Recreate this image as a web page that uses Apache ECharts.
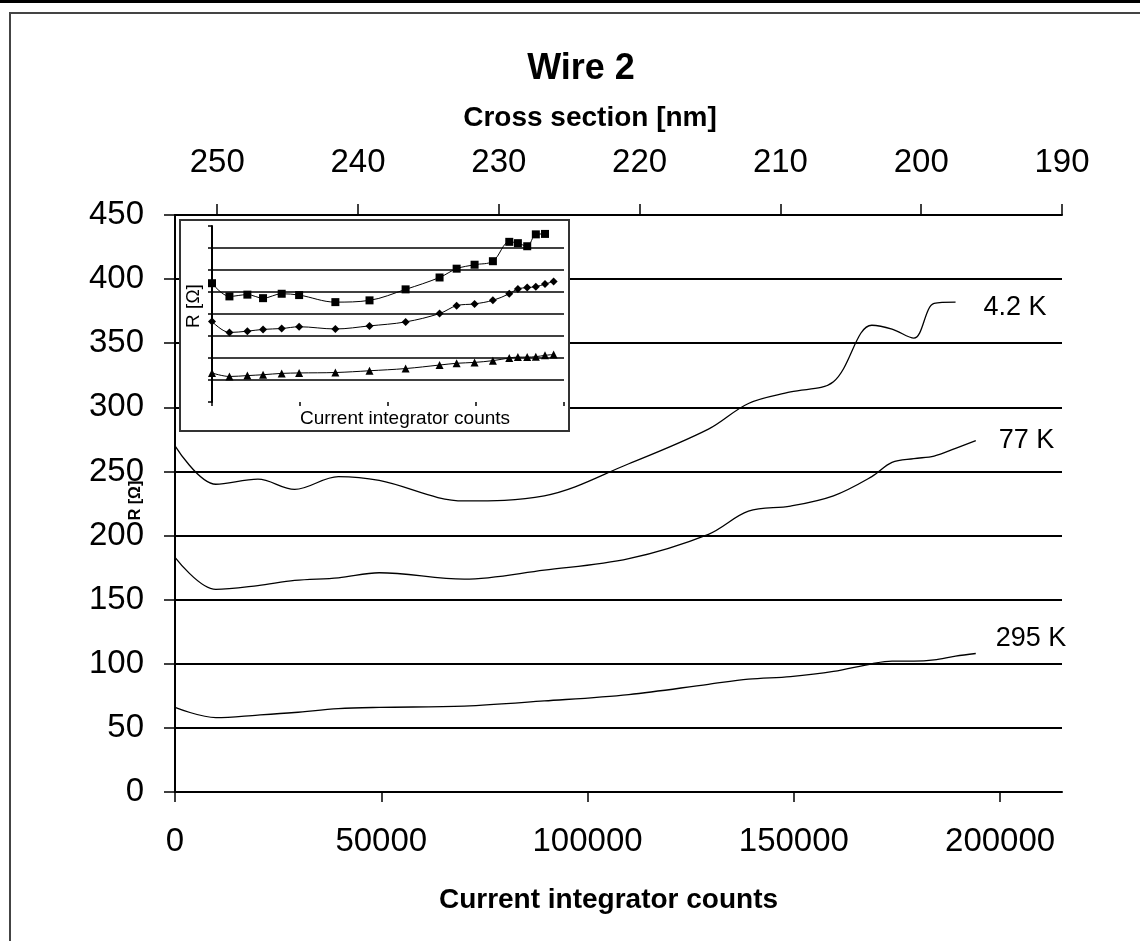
<!DOCTYPE html>
<html>
<head>
<meta charset="utf-8">
<script src="https://cdn.jsdelivr.net/npm/echarts@6/dist/echarts.min.js"></script>
<style>
  html, body { margin: 0; padding: 0; background: #fff; }
  #chart { width: 1140px; height: 941px; }
</style>
</head>
<body>
<div id="chart"></div>
<script>
// Current integrator counts at which the wire resistance was measured
const counts = [0, 9900, 20100, 29000, 39600, 49500, 70100, 89500, 110000, 129300,
                139000, 149200, 159600, 168900, 173800, 179100, 184000, 189200, 194100];
// Resistance R [Ω] at 4.2 K, 77 K and 295 K
const r42  = [270, 240, 244, 236, 246, 243, 227, 231, 256, 283, 303, 312, 320, 364, 361, 354, 381, 382];
const r77  = [183, 158, 161, 165, 167, 171, 166, 173, 182, 201, 219, 223, 231, 246, 257, 260, 262, 268, 274];
const r295 = [66, 58, 60, 62, 65, 66, 67, 71, 76, 84, 88, 90, 94, 100, 102, 102, 103, 106, 108];
const seriesNames = ['4.2 K', '77 K', '295 K'];

// Axis ticks
const countTicks = [0, 50000, 100000, 150000, 200000];
const sectionTicks = [190, 200, 210, 220, 230, 240, 250];

const FONT = 'Liberation Sans, Arial, sans-serif';
const pairs = vals => vals.map((v, i) => [counts[i], v]);

const chart = echarts.init(document.getElementById('chart'), null, { renderer: 'canvas' });

const mainLine = (name, vals, labelDist, labelOffset) => ({
  name, type: 'line', xAxisIndex: 0, yAxisIndex: 0, z: 2,
  data: pairs(vals), smooth: 0.35, showSymbol: false, symbol: 'none',
  lineStyle: { color: '#000', width: 1.3 },
  endLabel: {
    show: true, formatter: name, color: '#000', fontSize: 27, fontFamily: FONT,
    distance: labelDist, offset: labelOffset
  },
  emphasis: { disabled: true }
});

const insetLine = (name, vals, symbol, size) => ({
  name: name + ' inset', type: 'line', xAxisIndex: 2, yAxisIndex: 1, z: 12,
  data: pairs(vals), smooth: 0.35, symbol, symbolSize: size, showSymbol: true,
  itemStyle: { color: '#000' }, lineStyle: { color: '#000', width: 1 },
  emphasis: { disabled: true }
});

const option = {
  animation: false,
  backgroundColor: '#fff',
  textStyle: { fontFamily: FONT, color: '#000' },
  title: {
    text: 'Wire 2', left: 576, top: 46, textAlign: 'center',
    textStyle: { fontSize: 36, fontWeight: 'bold', color: '#000', fontFamily: FONT }
  },
  graphic: [
    { type: 'rect', z: 1, shape: { x: 0, y: 0, width: 1140, height: 3 }, style: { fill: '#000' } },
    { type: 'rect', z: 1, shape: { x: 10, y: 13, width: 1200, height: 1000 },
      style: { fill: null, stroke: '#444', lineWidth: 2 } },
    { type: 'rect', z: 5, shape: { x: 180, y: 220, width: 389, height: 211 },
      style: { fill: '#fff', stroke: '#333', lineWidth: 2 } }
  ],
  grid: [
    { left: 175, top: 215, width: 887, height: 577 },
    { left: 212, top: 226, width: 352, height: 176 }
  ],
  xAxis: [
    {
      gridIndex: 0, type: 'value', position: 'bottom', min: 0, max: 215000,
      name: 'Current integrator counts', nameLocation: 'middle', nameGap: 94,
      nameTextStyle: { fontSize: 28, fontWeight: 'bold', color: '#000', fontFamily: FONT, padding: [0, 20, 0, 0] },
      axisLine: { show: true, lineStyle: { color: '#000', width: 2 } },
      axisTick: { show: true, length: 10, customValues: countTicks, lineStyle: { color: '#000', width: 1.5 } },
      axisLabel: { customValues: countTicks, formatter: v => String(v), fontSize: 33, margin: 33, color: '#000', fontFamily: FONT },
      splitLine: { show: false }
    },
    {
      gridIndex: 0, type: 'value', position: 'top', inverse: true, min: 190, max: 253, interval: 10,
      name: 'Cross section [nm]', nameLocation: 'middle', nameGap: 83,
      nameTextStyle: { fontSize: 28, fontWeight: 'bold', color: '#000', fontFamily: FONT, padding: [0, 57, 0, 0] },
      axisLine: { show: true, lineStyle: { color: '#000', width: 2 } },
      axisTick: { show: true, length: 11, customValues: sectionTicks, lineStyle: { color: '#000', width: 1.5 } },
      axisLabel: { customValues: sectionTicks, formatter: v => String(v), fontSize: 33, margin: 36, color: '#000', fontFamily: FONT },
      splitLine: { show: false }
    },
    {
      gridIndex: 1, type: 'value', min: 0, max: 200000, interval: 50000, z: 8,
      name: 'Current integrator counts', nameLocation: 'middle', nameGap: 7,
      nameTextStyle: { fontSize: 19, color: '#000', fontFamily: FONT, padding: [0, 0, 0, 34] },
      axisLine: { show: false },
      axisTick: { show: true, length: 4, lineStyle: { color: '#000', width: 1.5 } },
      axisLabel: { show: false },
      splitLine: { show: false }
    }
  ],
  yAxis: [
    {
      gridIndex: 0, type: 'value', min: 0, max: 450, interval: 50,
      name: 'R [Ω]', nameLocation: 'middle', nameRotate: 90, nameGap: 31, nameMoveOverlap: false,
      nameTextStyle: { fontSize: 16, fontWeight: 'bold', color: '#000', fontFamily: FONT, padding: [0, 0, 0, 6] },
      axisLine: { show: true, lineStyle: { color: '#000', width: 2 } },
      axisTick: { show: true, length: 11, lineStyle: { color: '#000', width: 1.5 } },
      axisLabel: { fontSize: 33, margin: 31, color: '#000', fontFamily: FONT },
      splitLine: { show: true, lineStyle: { color: '#000', width: 2 } }
    },
    {
      gridIndex: 1, type: 'value', min: 0, max: 400, interval: 50, z: 8,
      name: 'R [Ω]', nameLocation: 'middle', nameRotate: 90, nameGap: 9,
      nameTextStyle: { fontSize: 19, color: '#000', fontFamily: FONT, padding: [0, 0, 0, 16] },
      axisLine: { show: true, lineStyle: { color: '#000', width: 2 } },
      axisTick: { show: true, length: 4, lineStyle: { color: '#000', width: 1.5 } },
      axisLabel: { show: false },
      splitLine: { show: true, showMinLine: false, showMaxLine: false, lineStyle: { color: '#000', width: 1.5 } }
    }
  ],
  series: [
    mainLine(seriesNames[0], r42, 28, [0, 5]),
    mainLine(seriesNames[1], r77, 23, [0, 0]),
    mainLine(seriesNames[2], r295, 20, [0, -15]),
    insetLine(seriesNames[0], r42, 'rect', 8),
    insetLine(seriesNames[1], r77, 'diamond', 8),
    insetLine(seriesNames[2], r295, 'triangle', 8)
  ]
};

chart.setOption(option);
</script>
</body>
</html>
